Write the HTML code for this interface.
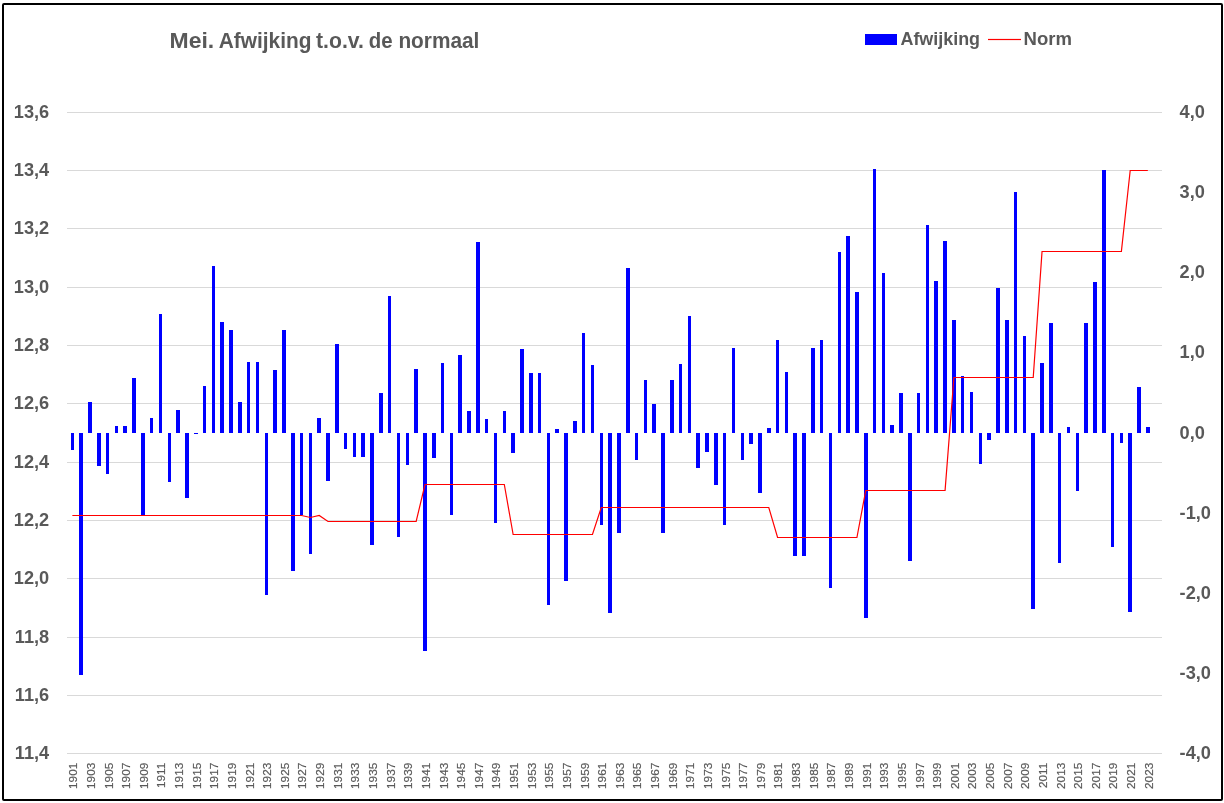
<!DOCTYPE html>
<html><head><meta charset="utf-8"><style>
html,body{margin:0;padding:0;background:#fff;}
body{width:1224px;height:803px;overflow:hidden;position:relative;}
svg{position:absolute;left:0;top:0;will-change:transform;}
</style></head><body>
<svg width="1224" height="803" viewBox="0 0 1224 803">
<rect x="0" y="0" width="1224" height="803" fill="#fff"/>
<rect x="3" y="4" width="1219" height="796" rx="1" ry="1" fill="none" stroke="#000" stroke-width="2"/>
<g fill="#d9d9d9" shape-rendering="crispEdges"><rect x="67" y="112" width="1095" height="1"/><rect x="67" y="170" width="1095" height="1"/><rect x="67" y="228" width="1095" height="1"/><rect x="67" y="287" width="1095" height="1"/><rect x="67" y="345" width="1095" height="1"/><rect x="67" y="403" width="1095" height="1"/><rect x="67" y="462" width="1095" height="1"/><rect x="67" y="520" width="1095" height="1"/><rect x="67" y="578" width="1095" height="1"/><rect x="67" y="637" width="1095" height="1"/><rect x="67" y="695" width="1095" height="1"/><rect x="67" y="753" width="1095" height="1"/></g>
<g fill="#0000ff" shape-rendering="crispEdges"><rect x="71" y="433" width="3" height="17"/><rect x="79" y="433" width="4" height="242"/><rect x="88" y="402" width="4" height="31"/><rect x="97" y="433" width="4" height="33"/><rect x="106" y="433" width="3" height="41"/><rect x="115" y="426" width="3" height="7"/><rect x="123" y="426" width="4" height="7"/><rect x="132" y="378" width="4" height="55"/><rect x="141" y="433" width="4" height="82"/><rect x="150" y="418" width="3" height="15"/><rect x="159" y="314" width="3" height="119"/><rect x="168" y="433" width="3" height="49"/><rect x="176" y="410" width="4" height="23"/><rect x="185" y="433" width="4" height="65"/><rect x="194" y="433" width="4" height="1"/><rect x="203" y="386" width="3" height="47"/><rect x="212" y="266" width="3" height="167"/><rect x="220" y="322" width="4" height="111"/><rect x="229" y="330" width="4" height="103"/><rect x="238" y="402" width="4" height="31"/><rect x="247" y="362" width="3" height="71"/><rect x="256" y="362" width="3" height="71"/><rect x="265" y="433" width="3" height="162"/><rect x="273" y="370" width="4" height="63"/><rect x="282" y="330" width="4" height="103"/><rect x="291" y="433" width="4" height="138"/><rect x="300" y="433" width="3" height="82"/><rect x="309" y="433" width="3" height="121"/><rect x="317" y="418" width="4" height="15"/><rect x="326" y="433" width="4" height="48"/><rect x="335" y="344" width="4" height="89"/><rect x="344" y="433" width="3" height="16"/><rect x="353" y="433" width="3" height="24"/><rect x="361" y="433" width="4" height="24"/><rect x="370" y="433" width="4" height="112"/><rect x="379" y="393" width="4" height="40"/><rect x="388" y="296" width="3" height="137"/><rect x="397" y="433" width="3" height="104"/><rect x="406" y="433" width="3" height="32"/><rect x="414" y="369" width="4" height="64"/><rect x="423" y="433" width="4" height="218"/><rect x="432" y="433" width="4" height="25"/><rect x="441" y="363" width="3" height="70"/><rect x="450" y="433" width="3" height="82"/><rect x="458" y="355" width="4" height="78"/><rect x="467" y="411" width="4" height="22"/><rect x="476" y="242" width="4" height="191"/><rect x="485" y="419" width="3" height="14"/><rect x="494" y="433" width="3" height="90"/><rect x="503" y="411" width="3" height="22"/><rect x="511" y="433" width="4" height="20"/><rect x="520" y="349" width="4" height="84"/><rect x="529" y="373" width="4" height="60"/><rect x="538" y="373" width="3" height="60"/><rect x="547" y="433" width="3" height="172"/><rect x="555" y="429" width="4" height="4"/><rect x="564" y="433" width="4" height="148"/><rect x="573" y="421" width="4" height="12"/><rect x="582" y="333" width="3" height="100"/><rect x="591" y="365" width="3" height="68"/><rect x="600" y="433" width="3" height="92"/><rect x="608" y="433" width="4" height="180"/><rect x="617" y="433" width="4" height="100"/><rect x="626" y="268" width="4" height="165"/><rect x="635" y="433" width="3" height="27"/><rect x="644" y="380" width="3" height="53"/><rect x="652" y="404" width="4" height="29"/><rect x="661" y="433" width="4" height="100"/><rect x="670" y="380" width="4" height="53"/><rect x="679" y="364" width="3" height="69"/><rect x="688" y="316" width="3" height="117"/><rect x="696" y="433" width="4" height="35"/><rect x="705" y="433" width="4" height="19"/><rect x="714" y="433" width="4" height="52"/><rect x="723" y="433" width="3" height="92"/><rect x="732" y="348" width="3" height="85"/><rect x="741" y="433" width="3" height="27"/><rect x="749" y="433" width="4" height="11"/><rect x="758" y="433" width="4" height="60"/><rect x="767" y="428" width="4" height="5"/><rect x="776" y="340" width="3" height="93"/><rect x="785" y="372" width="3" height="61"/><rect x="793" y="433" width="4" height="123"/><rect x="802" y="433" width="4" height="123"/><rect x="811" y="348" width="4" height="85"/><rect x="820" y="340" width="3" height="93"/><rect x="829" y="433" width="3" height="155"/><rect x="838" y="252" width="3" height="181"/><rect x="846" y="236" width="4" height="197"/><rect x="855" y="292" width="4" height="141"/><rect x="864" y="433" width="4" height="185"/><rect x="873" y="169" width="3" height="264"/><rect x="882" y="273" width="3" height="160"/><rect x="890" y="425" width="4" height="8"/><rect x="899" y="393" width="4" height="40"/><rect x="908" y="433" width="4" height="128"/><rect x="917" y="393" width="3" height="40"/><rect x="926" y="225" width="3" height="208"/><rect x="934" y="281" width="4" height="152"/><rect x="943" y="241" width="4" height="192"/><rect x="952" y="320" width="4" height="113"/><rect x="961" y="376" width="3" height="57"/><rect x="970" y="392" width="3" height="41"/><rect x="979" y="433" width="3" height="31"/><rect x="987" y="433" width="4" height="7"/><rect x="996" y="288" width="4" height="145"/><rect x="1005" y="320" width="4" height="113"/><rect x="1014" y="192" width="3" height="241"/><rect x="1023" y="336" width="3" height="97"/><rect x="1031" y="433" width="4" height="176"/><rect x="1040" y="363" width="4" height="70"/><rect x="1049" y="323" width="4" height="110"/><rect x="1058" y="433" width="3" height="130"/><rect x="1067" y="427" width="3" height="6"/><rect x="1076" y="433" width="3" height="58"/><rect x="1084" y="323" width="4" height="110"/><rect x="1093" y="282" width="4" height="151"/><rect x="1102" y="170" width="4" height="263"/><rect x="1111" y="433" width="3" height="114"/><rect x="1120" y="433" width="3" height="10"/><rect x="1128" y="433" width="4" height="179"/><rect x="1137" y="387" width="4" height="46"/><rect x="1146" y="427" width="4" height="6"/></g>
<polyline points="72.36,515.5 81.18,515.5 89.99,515.5 98.81,515.5 107.62,515.5 116.44,515.5 125.25,515.5 134.07,515.5 142.89,515.5 151.70,515.5 160.52,515.5 169.33,515.5 178.15,515.5 186.96,515.5 195.78,515.5 204.59,515.5 213.41,515.5 222.22,515.5 231.04,515.5 239.85,515.5 248.67,515.5 257.48,515.5 266.30,515.5 275.11,515.5 283.93,515.5 292.74,515.5 301.56,515.5 310.38,517.5 319.19,515.5 328.01,521.5 336.82,521.5 345.64,521.5 354.45,521.5 363.27,521.5 372.08,521.5 380.90,521.5 389.71,521.5 398.53,521.5 407.34,521.5 416.16,521.5 424.97,484.5 433.79,484.5 442.60,484.5 451.42,484.5 460.23,484.5 469.05,484.5 477.87,484.5 486.68,484.5 495.50,484.5 504.31,484.5 513.13,534.5 521.94,534.5 530.76,534.5 539.57,534.5 548.39,534.5 557.20,534.5 566.02,534.5 574.83,534.5 583.65,534.5 592.46,534.5 601.28,507.5 610.09,507.5 618.91,507.5 627.73,507.5 636.54,507.5 645.36,507.5 654.17,507.5 662.99,507.5 671.80,507.5 680.62,507.5 689.43,507.5 698.25,507.5 707.06,507.5 715.88,507.5 724.69,507.5 733.51,507.5 742.32,507.5 751.14,507.5 759.95,507.5 768.77,507.5 777.58,537.5 786.40,537.5 795.22,537.5 804.03,537.5 812.85,537.5 821.66,537.5 830.48,537.5 839.29,537.5 848.11,537.5 856.92,537.5 865.74,490.5 874.55,490.5 883.37,490.5 892.18,490.5 901.00,490.5 909.81,490.5 918.63,490.5 927.44,490.5 936.26,490.5 945.07,490.5 953.89,377.5 962.71,377.5 971.52,377.5 980.34,377.5 989.15,377.5 997.97,377.5 1006.78,377.5 1015.60,377.5 1024.41,377.5 1033.23,377.5 1042.04,251.5 1050.86,251.5 1059.67,251.5 1068.49,251.5 1077.30,251.5 1086.12,251.5 1094.93,251.5 1103.75,251.5 1112.56,251.5 1121.38,251.5 1130.20,170.5 1139.01,170.5 1147.83,170.5" fill="none" stroke="#ff0000" stroke-width="1.2" stroke-linejoin="miter"/>
<g font-family="Liberation Sans, sans-serif" font-weight="bold" fill="#595959">
<text x="169.50" y="48" font-size="21.2" textLength="44.68" lengthAdjust="spacingAndGlyphs">Mei.</text><text x="218.76" y="48" font-size="21.2" textLength="92.72" lengthAdjust="spacingAndGlyphs">Afwijking</text><text x="316.04" y="48" font-size="21.2" textLength="47.93" lengthAdjust="spacingAndGlyphs">t.o.v.</text><text x="368.79" y="48" font-size="21.2" textLength="23.81" lengthAdjust="spacingAndGlyphs">de</text><text x="398.40" y="48" font-size="21.2" textLength="80.96" lengthAdjust="spacingAndGlyphs">normaal</text>
<text x="900.5" y="45" font-size="17.9" textLength="79.5" lengthAdjust="spacingAndGlyphs">Afwijking</text>
<text x="1023.5" y="45" font-size="17.9" textLength="48.4" lengthAdjust="spacingAndGlyphs">Norm</text>
</g>
<rect x="865" y="34" width="32" height="11" fill="#0000ff" shape-rendering="crispEdges"/>
<rect x="988" y="38.9" width="33" height="1.2" fill="#ff0000"/>
<g font-family="Liberation Sans, sans-serif" font-weight="bold" fill="#595959" font-size="18.2"><text x="49.2" y="118" text-anchor="end">13,6</text><text x="49.2" y="176" text-anchor="end">13,4</text><text x="49.2" y="234" text-anchor="end">13,2</text><text x="49.2" y="293" text-anchor="end">13,0</text><text x="49.2" y="351" text-anchor="end">12,8</text><text x="49.2" y="409" text-anchor="end">12,6</text><text x="49.2" y="468" text-anchor="end">12,4</text><text x="49.2" y="526" text-anchor="end">12,2</text><text x="49.2" y="584" text-anchor="end">12,0</text><text x="49.2" y="643" text-anchor="end">11,8</text><text x="49.2" y="701" text-anchor="end">11,6</text><text x="49.2" y="759" text-anchor="end">11,4</text><text x="1179.6" y="118.0">4,0</text><text x="1179.6" y="198.1">3,0</text><text x="1179.6" y="278.2">2,0</text><text x="1179.6" y="358.4">1,0</text><text x="1179.6" y="438.5">0,0</text><text x="1179.6" y="518.6">-1,0</text><text x="1179.6" y="598.8">-2,0</text><text x="1179.6" y="678.9">-3,0</text><text x="1179.6" y="759.0">-4,0</text></g>
<g font-family="Liberation Sans, sans-serif" fill="#595959" font-size="11.8" stroke="#595959" stroke-width="0.2"><text transform="translate(77.26,762.7) rotate(-90)" text-anchor="end">1901</text><text transform="translate(94.89,762.7) rotate(-90)" text-anchor="end">1903</text><text transform="translate(112.52,762.7) rotate(-90)" text-anchor="end">1905</text><text transform="translate(130.15,762.7) rotate(-90)" text-anchor="end">1907</text><text transform="translate(147.79,762.7) rotate(-90)" text-anchor="end">1909</text><text transform="translate(165.42,762.7) rotate(-90)" text-anchor="end">1911</text><text transform="translate(183.05,762.7) rotate(-90)" text-anchor="end">1913</text><text transform="translate(200.68,762.7) rotate(-90)" text-anchor="end">1915</text><text transform="translate(218.31,762.7) rotate(-90)" text-anchor="end">1917</text><text transform="translate(235.94,762.7) rotate(-90)" text-anchor="end">1919</text><text transform="translate(253.57,762.7) rotate(-90)" text-anchor="end">1921</text><text transform="translate(271.20,762.7) rotate(-90)" text-anchor="end">1923</text><text transform="translate(288.83,762.7) rotate(-90)" text-anchor="end">1925</text><text transform="translate(306.46,762.7) rotate(-90)" text-anchor="end">1927</text><text transform="translate(324.09,762.7) rotate(-90)" text-anchor="end">1929</text><text transform="translate(341.72,762.7) rotate(-90)" text-anchor="end">1931</text><text transform="translate(359.35,762.7) rotate(-90)" text-anchor="end">1933</text><text transform="translate(376.98,762.7) rotate(-90)" text-anchor="end">1935</text><text transform="translate(394.61,762.7) rotate(-90)" text-anchor="end">1937</text><text transform="translate(412.24,762.7) rotate(-90)" text-anchor="end">1939</text><text transform="translate(429.87,762.7) rotate(-90)" text-anchor="end">1941</text><text transform="translate(447.50,762.7) rotate(-90)" text-anchor="end">1943</text><text transform="translate(465.13,762.7) rotate(-90)" text-anchor="end">1945</text><text transform="translate(482.77,762.7) rotate(-90)" text-anchor="end">1947</text><text transform="translate(500.40,762.7) rotate(-90)" text-anchor="end">1949</text><text transform="translate(518.03,762.7) rotate(-90)" text-anchor="end">1951</text><text transform="translate(535.66,762.7) rotate(-90)" text-anchor="end">1953</text><text transform="translate(553.29,762.7) rotate(-90)" text-anchor="end">1955</text><text transform="translate(570.92,762.7) rotate(-90)" text-anchor="end">1957</text><text transform="translate(588.55,762.7) rotate(-90)" text-anchor="end">1959</text><text transform="translate(606.18,762.7) rotate(-90)" text-anchor="end">1961</text><text transform="translate(623.81,762.7) rotate(-90)" text-anchor="end">1963</text><text transform="translate(641.44,762.7) rotate(-90)" text-anchor="end">1965</text><text transform="translate(659.07,762.7) rotate(-90)" text-anchor="end">1967</text><text transform="translate(676.70,762.7) rotate(-90)" text-anchor="end">1969</text><text transform="translate(694.33,762.7) rotate(-90)" text-anchor="end">1971</text><text transform="translate(711.96,762.7) rotate(-90)" text-anchor="end">1973</text><text transform="translate(729.59,762.7) rotate(-90)" text-anchor="end">1975</text><text transform="translate(747.22,762.7) rotate(-90)" text-anchor="end">1977</text><text transform="translate(764.85,762.7) rotate(-90)" text-anchor="end">1979</text><text transform="translate(782.48,762.7) rotate(-90)" text-anchor="end">1981</text><text transform="translate(800.12,762.7) rotate(-90)" text-anchor="end">1983</text><text transform="translate(817.75,762.7) rotate(-90)" text-anchor="end">1985</text><text transform="translate(835.38,762.7) rotate(-90)" text-anchor="end">1987</text><text transform="translate(853.01,762.7) rotate(-90)" text-anchor="end">1989</text><text transform="translate(870.64,762.7) rotate(-90)" text-anchor="end">1991</text><text transform="translate(888.27,762.7) rotate(-90)" text-anchor="end">1993</text><text transform="translate(905.90,762.7) rotate(-90)" text-anchor="end">1995</text><text transform="translate(923.53,762.7) rotate(-90)" text-anchor="end">1997</text><text transform="translate(941.16,762.7) rotate(-90)" text-anchor="end">1999</text><text transform="translate(958.79,762.7) rotate(-90)" text-anchor="end">2001</text><text transform="translate(976.42,762.7) rotate(-90)" text-anchor="end">2003</text><text transform="translate(994.05,762.7) rotate(-90)" text-anchor="end">2005</text><text transform="translate(1011.68,762.7) rotate(-90)" text-anchor="end">2007</text><text transform="translate(1029.31,762.7) rotate(-90)" text-anchor="end">2009</text><text transform="translate(1046.94,762.7) rotate(-90)" text-anchor="end">2011</text><text transform="translate(1064.57,762.7) rotate(-90)" text-anchor="end">2013</text><text transform="translate(1082.20,762.7) rotate(-90)" text-anchor="end">2015</text><text transform="translate(1099.83,762.7) rotate(-90)" text-anchor="end">2017</text><text transform="translate(1117.46,762.7) rotate(-90)" text-anchor="end">2019</text><text transform="translate(1135.10,762.7) rotate(-90)" text-anchor="end">2021</text><text transform="translate(1152.73,762.7) rotate(-90)" text-anchor="end">2023</text></g>
</svg>
</body></html>
